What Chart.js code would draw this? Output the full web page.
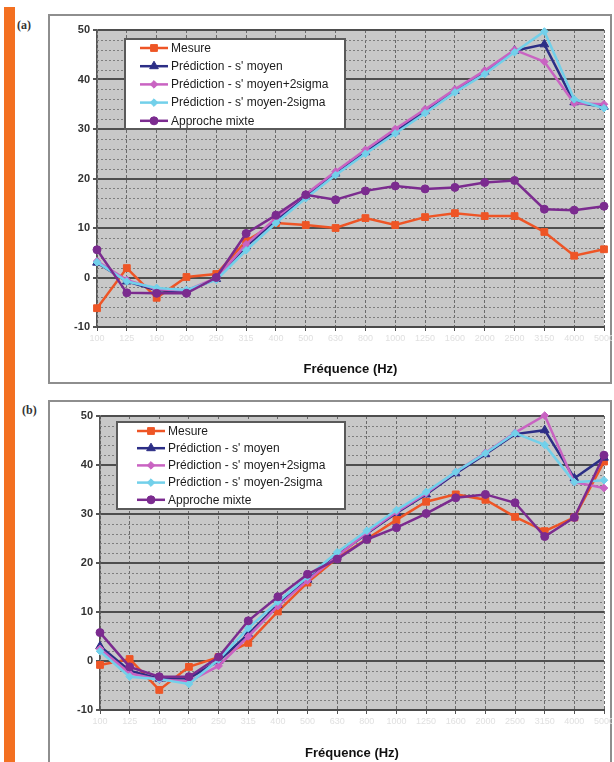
<!DOCTYPE html>
<html lang="fr">
<head>
<meta charset="utf-8">
<title>Fréquence (Hz)</title>
<script src="https://cdn.jsdelivr.net/npm/chart.js@4.4.1/dist/chart.umd.min.js"></script>
<style>
  html, body { margin: 0; padding: 0; background: #fff; }
  body { width: 614px; height: 762px; position: relative; overflow: hidden; }
  .bar { position: absolute; left: 4px; top: 7px; width: 11px; height: 755px; background: #f37021; }
  .frame { position: absolute; box-sizing: border-box; border: 2px solid #8e8e8e; background: #fff; }
  .tag { position: absolute; font: bold 12px "Liberation Serif", "DejaVu Serif", serif; color: #333; }
  canvas { position: absolute; }
</style>
</head>
<body>
<div class="bar"></div>

<div class="frame" style="left:48px; top:14px; width:564px; height:370px;"></div>
<div class="tag" style="left:17px; top:18px;">(a)</div>
<canvas id="chartA" width="564" height="369" style="left:48px; top:14px;"></canvas>

<div class="frame" style="left:48px; top:400px; width:564px; height:380px;"></div>
<div class="tag" style="left:22px; top:403px;">(b)</div>
<canvas id="chartB" width="564" height="362" style="left:48px; top:400px;"></canvas>

<script>
// Third-octave band centre frequencies
const bandsHz = ['100', '125', '160', '200', '250', '315', '400', '500', '630',
                 '800', '1000', '1250', '1600', '2000', '2500', '3150', '4000', '5000'];

const seriesNames = ['Mesure', "Prédiction - s' moyen", "Prédiction - s' moyen+2sigma",
                     "Prédiction - s' moyen-2sigma", 'Approche mixte'];

// Panel (a)
const mesureA  = [-6.2, 1.9, -4.1, 0.1, 0.7, 7.4, 11.0, 10.6, 10.0, 12.0, 10.6, 12.2, 13.0, 12.4, 12.4, 9.2, 4.4, 5.7];
const moyenA   = [3.0, -0.8, -2.6, -2.8, -0.3, 6.3, 11.6, 16.4, 21.0, 25.3, 29.5, 33.6, 37.7, 41.5, 45.8, 47.1, 35.4, 34.5];
const plusA    = [3.3, -0.5, -2.4, -2.6, -0.1, 6.7, 12.0, 16.8, 21.4, 25.8, 30.0, 34.0, 38.0, 41.8, 46.0, 43.6, 35.2, 35.0];
const minusA   = [3.1, -0.8, -2.1, -2.5, -0.5, 5.5, 11.0, 16.0, 20.7, 25.0, 29.1, 33.2, 37.4, 41.1, 45.5, 49.7, 36.0, 34.2];
const mixteA   = [5.6, -3.1, -3.2, -3.2, 0.0, 8.9, 12.6, 16.7, 15.7, 17.5, 18.5, 17.9, 18.2, 19.2, 19.6, 13.8, 13.6, 14.4];

// Panel (b)
const mesureB  = [-0.8, 0.4, -5.9, -1.2, 0.8, 3.7, 10.1, 16.0, 21.0, 24.9, 28.8, 32.5, 34.0, 32.9, 29.4, 26.5, 29.3, 40.7];
const moyenB   = [3.0, -2.0, -3.6, -3.5, 0.0, 5.5, 11.5, 16.6, 21.6, 26.0, 30.2, 34.0, 38.3, 42.2, 46.3, 47.1, 37.3, 41.5];
const plusB    = [2.5, -2.5, -3.8, -4.2, -1.0, 5.0, 11.2, 16.4, 21.4, 26.2, 30.4, 34.2, 38.6, 42.5, 46.6, 50.1, 36.5, 35.3];
const minusB   = [2.0, -3.2, -3.7, -4.7, 0.3, 6.7, 12.1, 17.2, 22.2, 26.6, 30.8, 34.5, 38.6, 42.4, 46.5, 44.1, 36.5, 36.9];
const mixteB   = [5.8, -1.2, -3.2, -3.2, 0.8, 8.2, 13.1, 17.7, 20.8, 24.8, 27.2, 30.1, 33.3, 34.0, 32.3, 25.4, 29.3, 42.0];

const yMin = -10, yMax = 50, yMajor = 10, yMinor = 2;

// Series appearance, in legend order
const looks = [
  { color: '#ee5526', point: 'rect',     radius: 4.8 },
  { color: '#2c2e86', point: 'triangle', radius: 5 },
  { color: '#c963c2', point: 'rectRot',  radius: 3.8 },
  { color: '#72d0ea', point: 'rectRot',  radius: 3.8 },
  { color: '#7b2b8f', point: 'circle',   radius: 4 }
];

const FONT = '"Liberation Sans", Arial, sans-serif';

// Marker shapes for the legend samples (same geometry as Chart.js point styles)
function marker(ctx, style, x, y, r, color) {
  ctx.beginPath();
  if (style === 'circle') {
    ctx.arc(x, y, r, 0, Math.PI * 2);
  } else if (style === 'rect') {
    const s = r * Math.SQRT2;
    ctx.rect(x - s / 2, y - s / 2, s, s);
  } else if (style === 'rectRot') {
    ctx.moveTo(x, y - r); ctx.lineTo(x + r, y); ctx.lineTo(x, y + r); ctx.lineTo(x - r, y);
    ctx.closePath();
  } else if (style === 'triangle') {
    const a = Math.PI / 6;
    ctx.moveTo(x, y - r);
    ctx.lineTo(x + Math.cos(a) * r, y + Math.sin(a) * r);
    ctx.lineTo(x - Math.cos(a) * r, y + Math.sin(a) * r);
    ctx.closePath();
  }
  ctx.fillStyle = color;
  ctx.strokeStyle = color;
  ctx.lineWidth = 1;
  ctx.fill();
  ctx.stroke();
}

// Grey plot area
const plotBack = {
  id: 'plotBack',
  beforeDraw(chart) {
    const { ctx, chartArea: a } = chart;
    ctx.save();
    ctx.fillStyle = '#c8c8c8';
    ctx.fillRect(a.left, a.top, a.right - a.left, a.bottom - a.top);
    ctx.restore();
  }
};

// Dotted minor horizontal grid between the major lines
const minorGrid = {
  id: 'minorGrid',
  beforeDatasetsDraw(chart) {
    const { ctx, chartArea: a, scales: { y } } = chart;
    ctx.save();
    ctx.strokeStyle = '#7e7e7e';
    ctx.lineWidth = 1;
    ctx.setLineDash([2, 2]);
    for (let v = yMin; v <= yMax; v += yMinor) {
      if (v % yMajor === 0) continue;
      const py = Math.round(y.getPixelForValue(v)) + 0.5;
      ctx.beginPath();
      ctx.moveTo(a.left, py);
      ctx.lineTo(a.right, py);
      ctx.stroke();
    }
    ctx.restore();
  }
};

// Boxed legend sitting inside the plot area
const insetLegend = {
  id: 'insetLegend',
  afterDatasetsDraw(chart, args, o) {
    const ctx = chart.ctx;
    ctx.save();
    ctx.fillStyle = '#ffffff';
    ctx.fillRect(o.x, o.y, o.w, o.h);
    ctx.strokeStyle = '#5a5a5a';
    ctx.lineWidth = 2;
    ctx.strokeRect(o.x, o.y, o.w, o.h);
    chart.data.datasets.forEach((ds, i) => {
      const ry = o.rowY + i * o.rowGap;
      ctx.strokeStyle = ds.borderColor;
      ctx.lineWidth = 2.5;
      ctx.setLineDash([]);
      ctx.beginPath();
      ctx.moveTo(o.lineX0, ry);
      ctx.lineTo(o.lineX1, ry);
      ctx.stroke();
      marker(ctx, ds.pointStyle, (o.lineX0 + o.lineX1) / 2, ry, ds.pointRadius, ds.pointBackgroundColor);
      ctx.fillStyle = '#1c1c1c';
      ctx.font = '12px ' + FONT;
      ctx.textBaseline = 'middle';
      ctx.textAlign = 'left';
      ctx.fillText(ds.label, o.textX, ry + 0.5);
    });
    ctx.restore();
  }
};

function makeChart(id, values, geo) {
  const datasets = values.map((vals, i) => ({
    label: seriesNames[i],
    data: vals,
    borderColor: looks[i].color,
    backgroundColor: looks[i].color,
    pointBackgroundColor: looks[i].color,
    pointBorderColor: looks[i].color,
    pointStyle: looks[i].point,
    pointRadius: looks[i].radius,
    pointBorderWidth: 1,
    borderWidth: 2.5,
    tension: 0,
    fill: false,
    clip: 8,
    order: values.length - i   // later series drawn above earlier ones
  }));

  return new Chart(document.getElementById(id), {
    type: 'line',
    data: { labels: bandsHz, datasets },
    plugins: [plotBack, minorGrid, insetLegend],
    options: {
      responsive: false,
      animation: false,
      devicePixelRatio: 1,
      layout: { padding: { top: 16, right: 8, left: 0, bottom: 0 } },
      plugins: {
        legend: { display: false },
        tooltip: { enabled: false },
        insetLegend: geo.legend
      },
      scales: {
        x: {
          offset: false,
          grid: { color: '#6a6a6a', lineWidth: 1, drawTicks: true, tickLength: 4, tickColor: '#555' },
          border: { color: '#4a4a4a', width: 2, dash: [3, 2] },
          ticks: { color: '#e0e0e0', font: { family: FONT, size: 9 }, maxRotation: 0, autoSkip: false, padding: 2 },
          title: {
            display: true,
            text: 'Fréquence (Hz)',
            color: '#111',
            font: { family: FONT, size: 13, weight: 'bold' },
            padding: { top: 0, bottom: geo.titlePad }
          },
          afterFit(s) { s.height = geo.xHeight; s.paddingLeft = 0; s.paddingRight = 0; }
        },
        y: {
          min: yMin,
          max: yMax,
          ticks: {
            stepSize: yMinor,
            autoSkip: false,
            color: '#333',
            padding: 3,
            font: { family: FONT, size: 11, weight: 'bold' },
            callback: v => (v % yMajor === 0 ? v : '')
          },
          grid: {
            color: c => (c.tick && c.tick.value % yMajor === 0 ? '#4e4e4e' : 'rgba(0,0,0,0)'),
            lineWidth: c => (c.tick && c.tick.value % yMajor === 0 ? 2 : 1),
            tickColor: c => (c.tick && c.tick.value % yMajor === 0 ? '#555' : 'rgba(0,0,0,0)'),
            tickLength: 4
          },
          border: { color: '#555', width: 1.5 },
          afterFit(s) { s.width = geo.yWidth; }
        }
      }
    }
  });
}

makeChart('chartA', [mesureA, moyenA, plusA, minusA, mixteA], {
  yWidth: 49, xHeight: 56, titlePad: 6,
  legend: { x: 77, y: 25, w: 220, h: 90, rowY: 34, rowGap: 18.2, lineX0: 92, lineX1: 120, textX: 123 }
});

makeChart('chartB', [mesureB, moyenB, plusB, minusB, mixteB], {
  yWidth: 52, xHeight: 52, titlePad: 1,
  legend: { x: 69, y: 22, w: 228, h: 87, rowY: 31, rowGap: 17.2, lineX0: 89, lineX1: 117, textX: 120 }
});
</script>
</body>
</html>
